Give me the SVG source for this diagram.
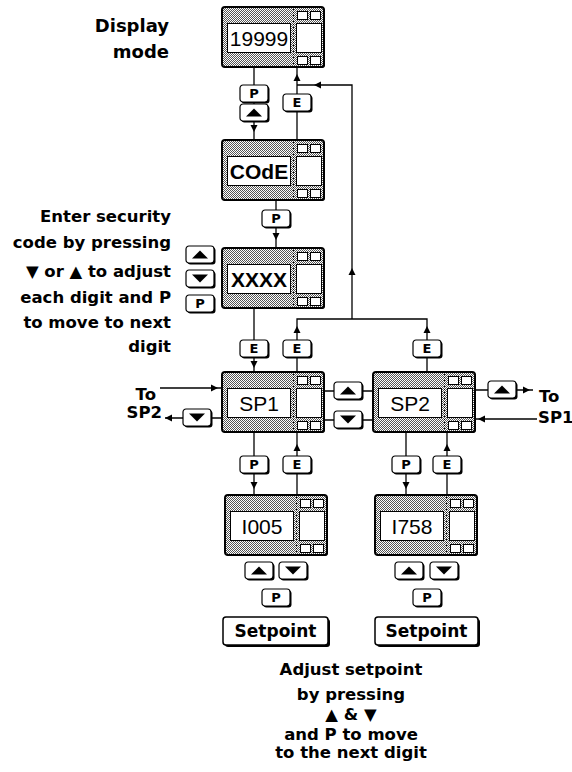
<svg xmlns="http://www.w3.org/2000/svg" xmlns:xlink="http://www.w3.org/1999/xlink" width="572" height="772" viewBox="0 0 572 772">
<style>
.ln{stroke:#000;stroke-width:1.3;fill:none}
.lbl{font-family:"DejaVu Sans","Liberation Sans",sans-serif;font-weight:bold;font-size:16.5px;fill:#000}
.disp{font-family:"Liberation Sans",Arial,sans-serif;font-size:21px;text-anchor:middle;fill:#000}
.b{font-weight:bold}
.k{font-family:"DejaVu Sans","Liberation Sans",sans-serif;font-weight:bold;font-size:13px;text-anchor:middle;fill:#000}
.sp{font-family:"DejaVu Sans","Liberation Sans",sans-serif;font-weight:bold;font-size:17px;text-anchor:middle;fill:#000}
</style>
<defs>
<pattern id="dots" width="2" height="2" patternUnits="userSpaceOnUse">
<rect width="2" height="2" fill="#fff"/>
<rect width="1" height="1" fill="#555"/>
<rect x="1" y="1" width="1" height="1" fill="#555"/>
</pattern>
<g id="frame">
<rect x="1" y="1" width="102" height="60" rx="3" fill="#000"/>
<rect x="0" y="0" width="102" height="60" rx="3" fill="url(#dots)" stroke="#000" stroke-width="2"/>
<line x1="71.5" y1="2" x2="71.5" y2="58" stroke="#000" stroke-dasharray="1,2"/>
<rect x="5.5" y="16.5" width="63" height="29" fill="#fff" stroke="#000"/>
<rect x="74.5" y="16.5" width="25" height="29" fill="#fff" stroke="#000"/>
<rect x="75.5" y="4.5" width="10" height="8" fill="#fff" stroke="#000"/>
<rect x="88.5" y="4.5" width="10" height="8" fill="#fff" stroke="#000"/>
<rect x="75.5" y="49.5" width="10" height="8" fill="#fff" stroke="#000"/>
<rect x="88.5" y="49.5" width="10" height="8" fill="#fff" stroke="#000"/>
</g>
<g id="key">
<rect x="1.5" y="1.5" width="28" height="17" rx="3" fill="#000"/>
<rect x="0" y="0" width="28" height="17" rx="3" fill="#fff" stroke="#000" stroke-width="1.2"/>
</g>
<polygon id="up" points="-8,4 8,4 0,-4" fill="#000"/>
<polygon id="dn" points="-8,-4 8,-4 0,4" fill="#000"/>
<path id="ah" d="M0,0 L-3.5,-7 L3.5,-7 Z" fill="#000"/>
</defs>
<rect width="572" height="772" fill="#fff"/>

<g id="connectors">
<path class="ln" d="M254,67 V140"/>
<use href="#ah" transform="translate(254,132)"/>
<path class="ln" d="M297,140 V67"/>
<use href="#ah" transform="translate(297,74) rotate(180)"/>
<path class="ln" d="M297,85 H352 V319"/>
<use href="#ah" transform="translate(314,85) rotate(90)"/>
<use href="#ah" transform="translate(352,268) rotate(180)"/>
<path class="ln" d="M276,200 V248"/>
<use href="#ah" transform="translate(276,240)"/>
<path class="ln" d="M254,308 V372"/>
<use href="#ah" transform="translate(254,368)"/>
<path class="ln" d="M297,372 V319 H427 V372"/>
<use href="#ah" transform="translate(297,326) rotate(180)"/>
<use href="#ah" transform="translate(427,326) rotate(180)"/>
<path class="ln" d="M325,391 H373"/>
<path class="ln" d="M325,420 H373"/>
<path class="ln" d="M160,388 H222"/>
<use href="#ah" transform="translate(218,388) rotate(-90)"/>
<path class="ln" d="M222,418 H165"/>
<use href="#ah" transform="translate(165,418) rotate(90)"/>
<path class="ln" d="M476,390 H533"/>
<use href="#ah" transform="translate(530,390) rotate(-90)"/>
<path class="ln" d="M537,419 H476"/>
<use href="#ah" transform="translate(478,419) rotate(90)"/>
<path class="ln" d="M254,432 V495"/>
<use href="#ah" transform="translate(254,489)"/>
<path class="ln" d="M297,495 V432"/>
<use href="#ah" transform="translate(297,444) rotate(180)"/>
<path class="ln" d="M406,432 V495"/>
<use href="#ah" transform="translate(406,489)"/>
<path class="ln" d="M447,495 V432"/>
<use href="#ah" transform="translate(447,444) rotate(180)"/>
</g>

<g id="keys">
<g transform="translate(240,85)"><use href="#key"/><text class="k" x="14" y="13">P</text></g>
<g transform="translate(240,104)"><use href="#key"/><use href="#up" x="14" y="8.5"/></g>
<g transform="translate(283,94)"><use href="#key"/><text class="k" x="14" y="13">E</text></g>
<g transform="translate(262,210)"><use href="#key"/><text class="k" x="14" y="13">P</text></g>
<g transform="translate(186,246)"><use href="#key"/><use href="#up" x="14" y="8.5"/></g>
<g transform="translate(186,270)"><use href="#key"/><use href="#dn" x="14" y="8.5"/></g>
<g transform="translate(186,295)"><use href="#key"/><text class="k" x="14" y="13">P</text></g>
<g transform="translate(240,340)"><use href="#key"/><text class="k" x="14" y="13">E</text></g>
<g transform="translate(283,340)"><use href="#key"/><text class="k" x="14" y="13">E</text></g>
<g transform="translate(413,340)"><use href="#key"/><text class="k" x="14" y="13">E</text></g>
<g transform="translate(334,382)"><use href="#key"/><use href="#up" x="14" y="8.5"/></g>
<g transform="translate(334,411)"><use href="#key"/><use href="#dn" x="14" y="8.5"/></g>
<g transform="translate(183,409)"><use href="#key"/><use href="#dn" x="14" y="8.5"/></g>
<g transform="translate(488,381)"><use href="#key"/><use href="#up" x="14" y="8.5"/></g>
<g transform="translate(240,456)"><use href="#key"/><text class="k" x="14" y="13">P</text></g>
<g transform="translate(283,456)"><use href="#key"/><text class="k" x="14" y="13">E</text></g>
<g transform="translate(392,456)"><use href="#key"/><text class="k" x="14" y="13">P</text></g>
<g transform="translate(433,456)"><use href="#key"/><text class="k" x="14" y="13">E</text></g>
<g transform="translate(245,562)"><use href="#key"/><use href="#up" x="14" y="8.5"/></g>
<g transform="translate(279,562)"><use href="#key"/><use href="#dn" x="14" y="8.5"/></g>
<g transform="translate(262,589)"><use href="#key"/><text class="k" x="14" y="13">P</text></g>
<g transform="translate(395,562)"><use href="#key"/><use href="#up" x="14" y="8.5"/></g>
<g transform="translate(430,562)"><use href="#key"/><use href="#dn" x="14" y="8.5"/></g>
<g transform="translate(413,589)"><use href="#key"/><text class="k" x="14" y="13">P</text></g>
</g>

<g id="display-mode" transform="translate(222,7)"><use href="#frame"/><text class="disp" x="37" y="38.5">19999</text></g>
<g id="code" transform="translate(222,140)"><use href="#frame"/><text class="disp b" x="37" y="38.5">COdE</text></g>
<g id="security" transform="translate(222,248)"><use href="#frame"/><text class="disp b" x="37" y="38.5">XXXX</text></g>
<g id="sp1" transform="translate(222,372)"><use href="#frame"/><text class="disp" x="37" y="38.5">SP1</text></g>
<g id="sp2" transform="translate(373,372)"><use href="#frame"/><text class="disp" x="37" y="38.5">SP2</text></g>
<g id="sp1-value" transform="translate(225,495)"><use href="#frame"/><text class="disp" x="37" y="38.5">I005</text></g>
<g id="sp2-value" transform="translate(375,495)"><use href="#frame"/><text class="disp" x="37" y="38.5">I758</text></g>

<g id="setpoint1">
<rect x="225" y="619" width="105" height="28" rx="3" fill="#000"/>
<rect x="223" y="617" width="105" height="28" rx="3" fill="#fff" stroke="#000" stroke-width="1.5"/>
<text class="sp" x="275.5" y="637">Setpoint</text>
</g>
<g id="setpoint2">
<rect x="377" y="619" width="103" height="28" rx="3" fill="#000"/>
<rect x="375" y="617" width="103" height="28" rx="3" fill="#fff" stroke="#000" stroke-width="1.5"/>
<text class="sp" x="426.5" y="637">Setpoint</text>
</g>

<g id="labels">
<text class="lbl" style="font-size:18px" x="169" y="32" text-anchor="end">Display</text>
<text class="lbl" style="font-size:18px" x="169" y="58" text-anchor="end">mode</text>
<text class="lbl" x="171" y="222" text-anchor="end">Enter security</text>
<text class="lbl" x="171" y="248" text-anchor="end">code by pressing</text>
<text class="lbl" x="171" y="277" text-anchor="end">▼ or ▲ to adjust</text>
<text class="lbl" x="171" y="303" text-anchor="end">each digit and P</text>
<text class="lbl" x="171" y="328" text-anchor="end">to move to next</text>
<text class="lbl" x="171" y="352" text-anchor="end">digit</text>
<text class="lbl" x="156" y="400" text-anchor="end">To</text>
<text class="lbl" x="162" y="418" text-anchor="end">SP2</text>
<text class="lbl" x="539" y="402">To</text>
<text class="lbl" x="538" y="423">SP1</text>
<text class="lbl" x="351" y="675" text-anchor="middle">Adjust setpoint</text>
<text class="lbl" x="351" y="700" text-anchor="middle">by pressing</text>
<text class="lbl" x="351" y="720" text-anchor="middle">▲ &amp; ▼</text>
<text class="lbl" x="351" y="740" text-anchor="middle">and P to move</text>
<text class="lbl" x="351" y="758" text-anchor="middle">to the next digit</text>
</g>
</svg>
